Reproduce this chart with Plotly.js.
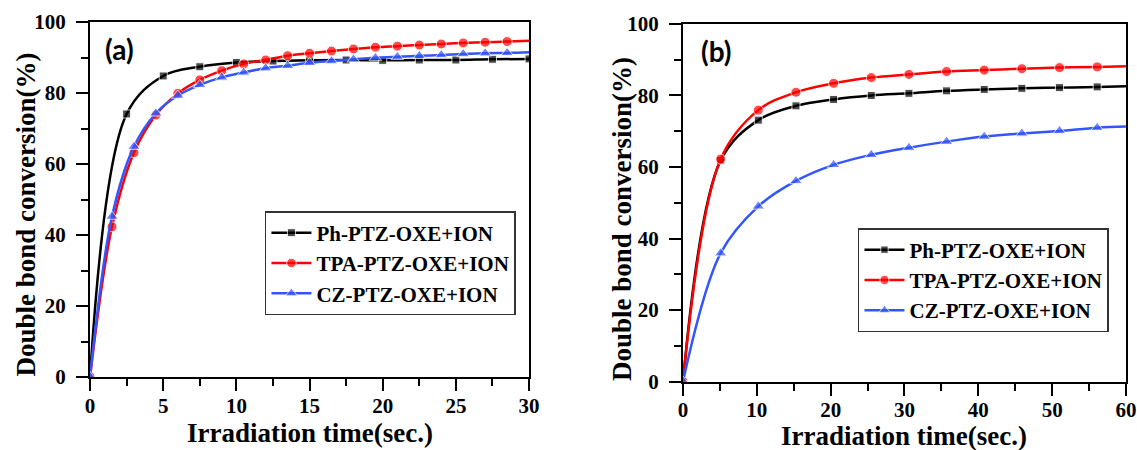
<!DOCTYPE html>
<html>
<head>
<meta charset="utf-8">
<script src="https://cdn.plot.ly/plotly-3.0.1.min.js"></script>
<style>html,body{margin:0;padding:0;background:#fff}#chart{width:1137px;height:450px}</style>
</head>
<body>
<div id="chart"></div>
<script>
// Series names
const seriesNames = ["Ph-PTZ-OXE+ION", "TPA-PTZ-OXE+ION", "CZ-PTZ-OXE+ION"];

// Panel (a)
const aPhX = [0, 2.5, 5, 7.5, 10, 12.5, 15, 17.5, 20, 22.5, 25, 27.5, 30];
const aPhY = [0, 74.1, 84.8, 87.4, 88.6, 89.0, 89.2, 89.3, 89.2, 89.3, 89.3, 89.5, 89.6];
const aTpaX = [0, 1.5, 3, 4.5, 6, 7.5, 9, 10.5, 12, 13.5, 15, 16.5, 18, 19.5, 21, 22.5, 24, 25.5, 27, 28.5, 30];
const aTpaY = [0, 42.3, 63.2, 73.8, 79.9, 83.7, 86.3, 88.2, 89.3, 90.5, 91.2, 91.8, 92.4, 92.9, 93.2, 93.5, 93.8, 94.1, 94.3, 94.5, 94.7];
const aCzX = [0, 1.5, 3, 4.5, 6, 7.5, 9, 10.5, 12, 13.5, 15, 16.5, 18, 19.5, 21, 22.5, 24, 25.5, 27, 28.5, 30];
const aCzY = [0, 45.2, 64.9, 74.3, 79.3, 82.3, 84.4, 85.8, 87.0, 87.7, 88.5, 89.0, 89.5, 89.9, 90.2, 90.5, 90.7, 91.0, 91.2, 91.3, 91.5];

// Panel (b)
const bX = [0, 5.1, 10.2, 15.3, 20.4, 25.5, 30.6, 35.7, 40.8, 45.9, 51.0, 56.1, 60];
const bPhY = [0, 61.8, 73.1, 77.1, 78.9, 80.0, 80.6, 81.3, 81.7, 82.0, 82.2, 82.4, 82.6];
const bTpaY = [0, 62.2, 75.9, 80.9, 83.4, 85.0, 85.9, 86.7, 87.1, 87.5, 87.8, 88.0, 88.2];
const bCzY = [0, 35.9, 49.0, 56.1, 60.6, 63.4, 65.4, 67.1, 68.5, 69.4, 70.1, 71.0, 71.3];

// Axis tick values
const aXTicks = [0, 5, 10, 15, 20, 25, 30];
const bXTicks = [0, 10, 20, 30, 40, 50, 60];
const yTicks = [0, 20, 40, 60, 80, 100];

const colors = ["#000000", "#ff0000", "#3355ff"];
const symbols = ["square", "circle", "triangle-up"];
const msizes = [8, 10, 11];

function trace(x, y, i, xa, ya, legend, hideAt) {
  const sizes = x.map(v => (hideAt !== null && v >= hideAt) ? 0 : msizes[i]);
  return {
    x: x, y: y, type: "scatter", mode: "lines+markers",
    name: seriesNames[i], xaxis: xa, yaxis: ya, legend: legend,
    line: {color: colors[i], width: 2.5, shape: "spline", smoothing: 1},
    marker: {symbol: symbols[i], color: colors[i], size: sizes},
    showlegend: true
  };
}

const data = [
  trace(aPhX, aPhY, 0, "x", "y", "legend", null),
  trace(aTpaX, aTpaY, 1, "x", "y", "legend", 30),
  trace(aCzX, aCzY, 2, "x", "y", "legend", 30),
  trace(bX, bPhY, 0, "x2", "y2", "legend2", 60),
  trace(bX, bTpaY, 1, "x2", "y2", "legend2", 60),
  trace(bX, bCzY, 2, "x2", "y2", "legend2", 60)
];

const serif = "Liberation Serif, Times New Roman, serif";
const tickFont = {family: serif, size: 21, color: "#000", weight: "bold"};
function axisBase(extra) {
  return Object.assign({
    showline: true, linewidth: 2, linecolor: "#000", mirror: true,
    showgrid: false, zeroline: false,
    ticks: "outside", ticklen: 12, tickwidth: 2, tickcolor: "#000",
    tickfont: tickFont, fixedrange: true
  }, extra);
}

const legendStyle = {
  font: {family: serif, size: 21, color: "#000", weight: "bold"},
  bgcolor: "#ffffff", bordercolor: "#333", borderwidth: 1.5,
  xanchor: "left", yanchor: "top", tracegroupgap: 0, itemwidth: 40
};

const titleFont = {family: serif, size: 27, color: "#000", weight: "bold"};
const panelFont = {family: "Lato", size: 28, color: "#000", weight: "bold"};

const layout = {
  width: 1137, height: 450,
  margin: {l: 0, r: 0, t: 0, b: 0},
  paper_bgcolor: "#fff", plot_bgcolor: "#fff",
  showlegend: true,
  xaxis: axisBase({domain: [0.0792, 0.4653], range: [0, 30], tickvals: aXTicks, ticklabelstandoff: -3,
    minor: {ticks: "outside", ticklen: 7, tickwidth: 2, tickcolor: "#000", dtick: 2.5}, anchor: "y"}),
  yaxis: axisBase({domain: [0.1622, 0.9511], range: [0, 100], tickvals: yTicks, ticklabelstandoff: 6,
    minor: {ticks: "outside", ticklen: 7, tickwidth: 2, tickcolor: "#000", dtick: 10}, anchor: "x"}),
  xaxis2: axisBase({domain: [0.6007, 0.9903], range: [0, 60], tickvals: bXTicks, ticklabelstandoff: -4,
    minor: {ticks: "outside", ticklen: 7, tickwidth: 2, tickcolor: "#000", dtick: 5}, anchor: "y2"}),
  yaxis2: axisBase({domain: [0.1522, 0.9467], range: [0, 100], tickvals: yTicks, ticklabelstandoff: 6,
    minor: {ticks: "outside", ticklen: 7, tickwidth: 2, tickcolor: "#000", dtick: 10}, anchor: "x2"}),
  legend: Object.assign({x: 0.233, y: 0.531}, legendStyle),
  legend2: Object.assign({x: 0.7546, y: 0.4933}, legendStyle),
  annotations: [
    {text: "Irradiation time(sec.)", xref: "x", yref: "paper", x: 15, y: 1 - 433 / 450, xanchor: "center", yanchor: "middle", showarrow: false, font: titleFont},
    {text: "Irradiation time(sec.)", xref: "x2", yref: "paper", x: 30, y: 1 - 436 / 450, xanchor: "center", yanchor: "middle", showarrow: false, font: titleFont},
    {text: "Double bond conversion(%)", xref: "paper", yref: "paper", x: 25.5 / 1137, y: 1 - 215 / 450, textangle: -90, xanchor: "center", yanchor: "middle", showarrow: false, font: titleFont},
    {text: "Double bond conversion(%)", xref: "paper", yref: "paper", x: 622 / 1137, y: 1 - 219 / 450, textangle: -90, xanchor: "center", yanchor: "middle", showarrow: false, font: titleFont},
    {text: "(a)", xref: "paper", yref: "paper", x: 119 / 1137, y: 1 - 49 / 450, xanchor: "center", yanchor: "middle", showarrow: false, font: panelFont},
    {text: "(b)", xref: "paper", yref: "paper", x: 716 / 1137, y: 1 - 51 / 450, xanchor: "center", yanchor: "middle", showarrow: false, font: panelFont}
  ]
};

Plotly.newPlot("chart", data, layout, {staticPlot: true, displayModeBar: false});
</script>
</body>
</html>
